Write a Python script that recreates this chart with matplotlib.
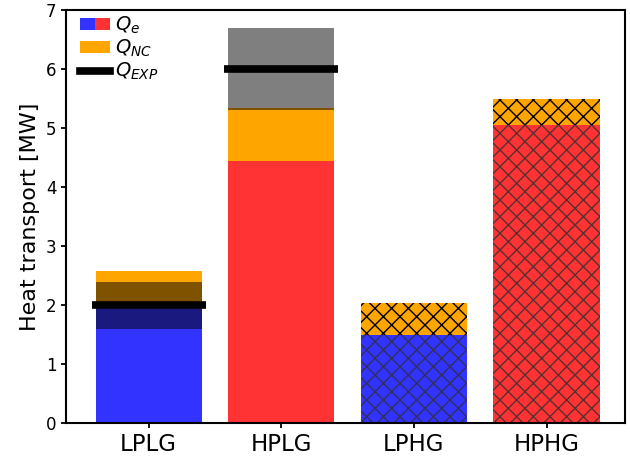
import numpy as np
import matplotlib
matplotlib.use('Agg')
import matplotlib.pyplot as plt
from matplotlib.lines import Line2D
from matplotlib.patches import Patch
from matplotlib.legend_handler import HandlerTuple

cases = ['LPLG', 'HPLG', 'LPHG', 'HPHG']
q_e = [2.0, 4.44, 1.5, 5.05]
q_nc = [0.58, 0.9, 0.53, 0.44]
e_colors = ['blue', 'red', 'blue', 'red']
hatches = ['', '', 'xx', 'xx']
# experimental values (only for the low gradient cases)
q_exp = [2.0, 6.0]
q_exp_err = [0.4, 0.7]

x = np.arange(len(cases))
w = 0.8

fig = plt.figure(figsize=(6.3, 4.59), dpi=100)
ax = fig.add_subplot(111)
fig.subplots_adjust(left=0.105, right=0.992, bottom=0.078, top=0.978)

for i in range(len(cases)):
    ax.bar(x[i], q_e[i], width=w, color=e_colors[i], alpha=0.8, hatch=hatches[i],
           edgecolor='#303030', lw=0)
    ax.bar(x[i], q_nc[i], bottom=q_e[i], width=w, color='orange', hatch=hatches[i],
           edgecolor='black', lw=0)

# uncertainty band of experiment
for i in range(len(q_exp)):
    ax.bar(x[i], 2*q_exp_err[i], bottom=q_exp[i]-q_exp_err[i], width=w, color='black', alpha=0.5, lw=0)
    ax.hlines(q_exp[i], x[i]-0.43, x[i]+0.43, color='black', lw=5.5)

ax.set_ylim(0, 7)
ax.set_xticks(x)
ax.set_xticklabels(cases, fontsize=16.5)
ax.tick_params(axis='y', labelsize=12, width=1.3, length=3.5)
ax.tick_params(axis='x', width=1.3, length=3.5)
ax.set_ylabel('Heat transport [MW]', fontsize=16)
for s in ax.spines.values():
    s.set_linewidth(1.5)

h_e = (Patch(color='blue', alpha=0.8, lw=0), Patch(color='red', alpha=0.8, lw=0))
h_nc = Patch(color='orange', lw=0)
h_exp = Line2D([], [], color='black', lw=5.5)
ax.legend([h_e, h_nc, h_exp], ['$Q_e$', '$Q_{NC}$', '$Q_{EXP}$'],
          handler_map={tuple: HandlerTuple(ndivide=None, pad=0)},
          loc='upper left', bbox_to_anchor=(0.015, 1.003), frameon=False, fontsize=14,
          handlelength=1.5, handleheight=0.6, handletextpad=0.3, labelspacing=0.1,
          borderaxespad=0, borderpad=0.3)

fig.savefig('out.png', dpi=100)
